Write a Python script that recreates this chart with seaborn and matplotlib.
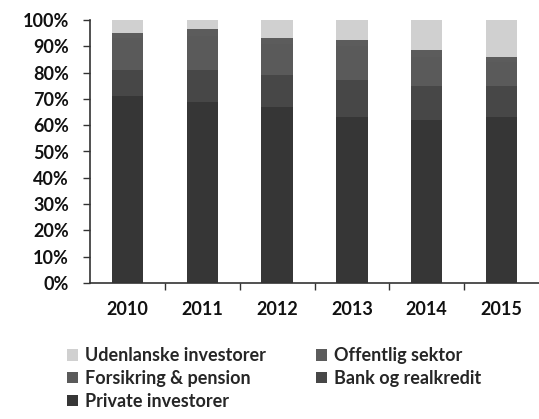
import matplotlib
matplotlib.use("Agg")
import matplotlib.pyplot as plt
from matplotlib.patches import Patch
from matplotlib.ticker import FixedLocator, PercentFormatter
import numpy as np
import pandas as pd
import seaborn as sns

years = [2010, 2011, 2012, 2013, 2014, 2015]

# Ownership shares in percent, bottom segment first
private_investorer = [71.0, 69.0, 67.0, 63.0, 62.0, 63.0]
bank_og_realkredit = [10.0, 12.0, 12.0, 14.0, 13.0, 12.0]
forsikring_pension = [12.0, 13.0, 12.0, 13.0, 11.0, 9.0]
offentlig_sektor = [2.0, 2.5, 2.0, 2.4, 2.6, 2.0]
udenlandske_investorer = [5.0, 3.5, 7.0, 7.6, 11.4, 14.0]

series = {
    "Udenlanske investorer": udenlandske_investorer,
    "Offentlig sektor": offentlig_sektor,
    "Forsikring & pension": forsikring_pension,
    "Bank og realkredit": bank_og_realkredit,
    "Private investorer": private_investorer,
}
colors = {
    "Udenlanske investorer": "#d0d0d0",
    "Offentlig sektor": "#5c5c5c",
    "Forsikring & pension": "#5a5a5a",
    "Bank og realkredit": "#474747",
    "Private investorer": "#363636",
}

df = pd.DataFrame(
    [(y, name, v) for name, vals in series.items() for y, v in zip(years, vals)],
    columns=["year", "investor", "share"],
)

sns.set_style("white")
plt.rcParams["font.family"] = ["Lato", "DejaVu Sans"]
plt.rcParams["font.weight"] = "bold"

fig = plt.figure(figsize=(5.39, 4.19), dpi=100)
ax = fig.add_axes([90 / 539, 1 - 283 / 419, 449 / 539, 263 / 419])

hue_order = list(series.keys())
sns.histplot(
    data=df, x="year", weights="share", hue="investor", hue_order=hue_order,
    multiple="stack", discrete=True, shrink=0.42, palette=colors,
    alpha=1, linewidth=0, legend=False, ax=ax,
)

ax.set_xlim(years[0] - 0.5, years[-1] + 0.5)
ax.set_ylim(0, 100)
ax.set_xlabel("")
ax.set_ylabel("")

ax.yaxis.set_major_locator(FixedLocator(np.arange(0, 101, 10)))
ax.yaxis.set_major_formatter(PercentFormatter(decimals=0))
ax.tick_params(axis="y", which="major", length=5, width=1, color="#333333",
               direction="out", left=True, labelsize=13, pad=10,
               labelcolor="#111111")

# category boundaries carry the tick marks, year labels sit under the bars
ax.xaxis.set_major_locator(FixedLocator([y + 0.5 for y in years[:-1]]))
ax.xaxis.set_major_formatter(plt.NullFormatter())
ax.xaxis.set_minor_locator(FixedLocator(years))
ax.xaxis.set_minor_formatter(plt.FixedFormatter([str(y) for y in years]))
ax.tick_params(axis="x", which="major", length=5, width=1, color="#333333",
               direction="out", bottom=True)
ax.tick_params(axis="x", which="minor", length=0, labelsize=13, pad=13,
               labelcolor="#111111")

for side in ["top", "right"]:
    ax.spines[side].set_visible(False)
for side in ["left", "bottom"]:
    ax.spines[side].set_color("#333333")
    ax.spines[side].set_linewidth(1.2)

legend_order = ["Udenlanske investorer", "Forsikring & pension",
                "Private investorer", "Offentlig sektor", "Bank og realkredit"]
handles = [Patch(facecolor=colors[n], edgecolor="none", label=n) for n in legend_order]
fig.legend(
    handles=handles, ncol=2, loc="upper left", bbox_to_anchor=(51 / 539, 1 - 331 / 419),
    frameon=False, handlelength=0.6, handleheight=0.6,
    handletextpad=0.4, columnspacing=2.75, labelspacing=0.32,
    prop={"weight": "bold", "size": 13},
)

fig.savefig("out.png", dpi=100, facecolor="white")
